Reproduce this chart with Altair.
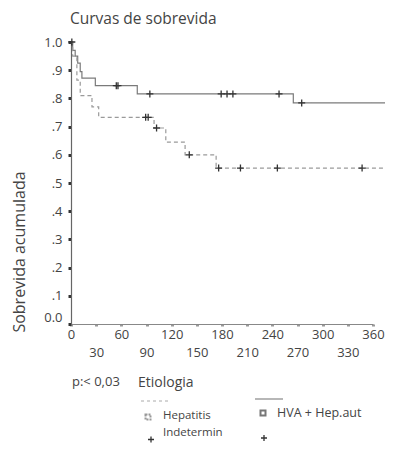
import altair as alt
import pandas as pd

groups = ["HVA + Hep.aut", "Hepatitis Indetermin"]
solid_days = [0, 2, 5, 8, 11, 13, 29, 79, 265, 378]
solid_surv = [1.0, 0.97, 0.95, 0.925, 0.895, 0.872, 0.845, 0.816, 0.784, 0.784]
dash_days = [0, 2, 7, 11, 25, 33, 99, 113, 136, 173, 378]
dash_surv = [1.0, 0.95, 0.865, 0.81, 0.77, 0.733, 0.695, 0.645, 0.6, 0.553, 0.553]
solid_cens_days = [1, 54, 56, 94, 179, 186, 193, 248, 275]
solid_cens_surv = [1.0, 0.845, 0.845, 0.816, 0.816, 0.816, 0.816, 0.816, 0.784]
dash_cens_days = [89, 92, 102, 141, 176, 202, 246, 347]
dash_cens_surv = [0.733, 0.733, 0.695, 0.6, 0.553, 0.553, 0.553, 0.553]
x_ticks = list(range(0, 361, 30))
y_ticks = [round(i * 0.1, 1) for i in range(11)]

FONT = "Open Sans"
TXT = "#444444"

lines_df = pd.DataFrame({
    "group": [groups[0]] * len(solid_days) + [groups[1]] * len(dash_days),
    "day": solid_days + dash_days,
    "surv": solid_surv + dash_surv,
})
cens_df = pd.DataFrame({
    "group": [groups[0]] * len(solid_cens_days) + [groups[1]] * len(dash_cens_days),
    "day": solid_cens_days + dash_cens_days,
    "surv": solid_cens_surv + dash_cens_surv,
})

x_enc = alt.X(
    "day:Q",
    scale=alt.Scale(domain=[0, 360], nice=False, zero=False),
    axis=alt.Axis(
        values=x_ticks, title=None, grid=False,
        domainColor="#888888", domainWidth=1.2,
        tickColor="#999999", tickSize=2, tickWidth=3,
        labelFont=FONT, labelFontSize=13, labelColor=TXT,
        labelPadding={"condition": {"test": "datum.value % 60 == 0", "value": 2}, "value": 20},
        labelFlush=False, labelOverlap=False, labelAngle=0,
    ),
)
y_enc = alt.Y(
    "surv:Q",
    scale=alt.Scale(domain=[0, 1], nice=False),
    axis=alt.Axis(
        values=y_ticks, title=None, grid=False,
        domainColor="#666666", domainWidth=1.2,
        tickColor="#333333", tickSize=3, tickWidth=3,
        labelFont=FONT, labelFontSize=13, labelColor=TXT, labelPadding=6,
        labelExpr="datum.value == 0 ? '0.0' : datum.value == 1 ? '1.0' : replace(format(datum.value, '.1f'), '0.', '.')",
        labelOffset={"condition": {"test": "datum.value == 0", "value": -7}, "value": 0},
        labelFlush=False, labelOverlap=False,
    ),
)

color_scale = alt.Scale(domain=groups, range=["#7a7a7a", "#9a9a9a"])
dash_scale = alt.Scale(domain=groups, range=[[1, 0], [4, 3]])

lines = alt.Chart(lines_df).mark_line(interpolate="step-after", clip=False, strokeWidth=1.2).encode(
    x=x_enc, y=y_enc,
    color=alt.Color("group:N", scale=color_scale, legend=None),
    strokeDash=alt.StrokeDash("group:N", scale=dash_scale, legend=None),
)

cross = "M-1,0L1,0M0,-1L0,1"
cens = alt.Chart(cens_df).mark_point(shape=cross, filled=False, size=49, stroke="#333333",
                                     strokeWidth=1.3, opacity=1, clip=False).encode(x=x_enc, y=y_enc)


def label(text, x, y, size=12, align="left", angle=0):
    return alt.Chart(pd.DataFrame({"t": [text]})).mark_text(
        font=FONT, fontSize=size, color=TXT, align=align, baseline="middle", angle=angle
    ).encode(x=alt.value(x), y=alt.value(y), text="t:N")


title = label("Curvas de sobrevida", -1, -23, size=15.5)
ytitle = label("Sobrevida acumulada", -51, 210, size=16, align="center", angle=270)
pval = label("p:< 0,03", 1, 340, size=13)
etiol = label("Etiologia", 67, 341, size=14)
hep1 = label("Hepatitis", 92, 374, size=11.5)
hep2 = label("Indetermin", 92, 390.5, size=11.5)
hva = label("HVA + Hep.aut", 206, 371, size=12.5)

leg_df = pd.DataFrame({"group": groups})
rule_dash = alt.Chart(leg_df.iloc[[1]]).mark_rule(stroke="#aaaaaa", strokeDash=[3, 3], strokeWidth=1).encode(
    x=alt.value(70), x2=alt.value(100), y=alt.value(359))
rule_solid = alt.Chart(leg_df.iloc[[0]]).mark_rule(stroke="#888888", strokeWidth=1.2).encode(
    x=alt.value(184), x2=alt.value(212), y=alt.value(357))
sq_dash = alt.Chart(leg_df.iloc[[1]]).mark_point(shape="square", filled=False, size=25, stroke="#999999",
                                                 strokeDash=[2, 1], opacity=1).encode(x=alt.value(77), y=alt.value(375))
sq_solid = alt.Chart(leg_df.iloc[[0]]).mark_point(shape="square", filled=False, size=25, stroke="#777777",
                                                  opacity=1).encode(x=alt.value(192), y=alt.value(371))
plus1 = alt.Chart(leg_df.iloc[[1]]).mark_point(shape=cross, filled=False, size=36, stroke="#333333",
                                               strokeWidth=1.3, opacity=1).encode(x=alt.value(80), y=alt.value(397.5))
plus2 = alt.Chart(leg_df.iloc[[0]]).mark_point(shape=cross, filled=False, size=36, stroke="#333333",
                                               strokeWidth=1.3, opacity=1).encode(x=alt.value(193), y=alt.value(396))

chart = alt.layer(
    lines, cens, title, ytitle, pval, etiol, hep1, hep2, hva,
    rule_dash, rule_solid, sq_dash, sq_solid, plus1, plus2,
).properties(
    width=302, height=282,
    autosize=alt.AutoSizeParams(type="none"),
    padding={"left": 63, "top": 34, "right": 12, "bottom": 120},
).configure_view(stroke=None)

chart.save("out.html", embed_options={"renderer": "svg", "actions": False})
